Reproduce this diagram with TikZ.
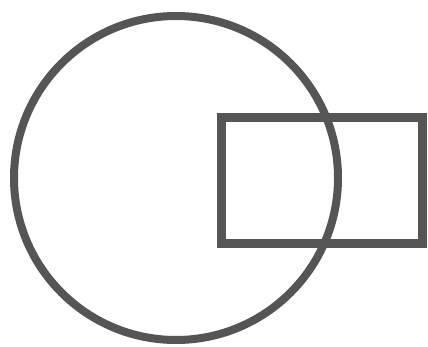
\documentclass[tikz,border=0pt]{standalone}
\begin{document}
\begin{tikzpicture}[x=1pt,y=-1pt]
\definecolor{ink}{HTML}{555555}
\tikzset{shapeline/.style={draw=ink}}
\useasboundingbox[fill=white] (0,0) rectangle (428,347);
\node[shapeline, circle, line width=8pt, minimum size=324pt, inner sep=0pt] (circ) at (176,178) {};
\node[shapeline, rectangle, line width=9pt, minimum width=201pt, minimum height=126pt, inner sep=0pt] (box) at (322,180.5) {};
\end{tikzpicture}
\end{document}
